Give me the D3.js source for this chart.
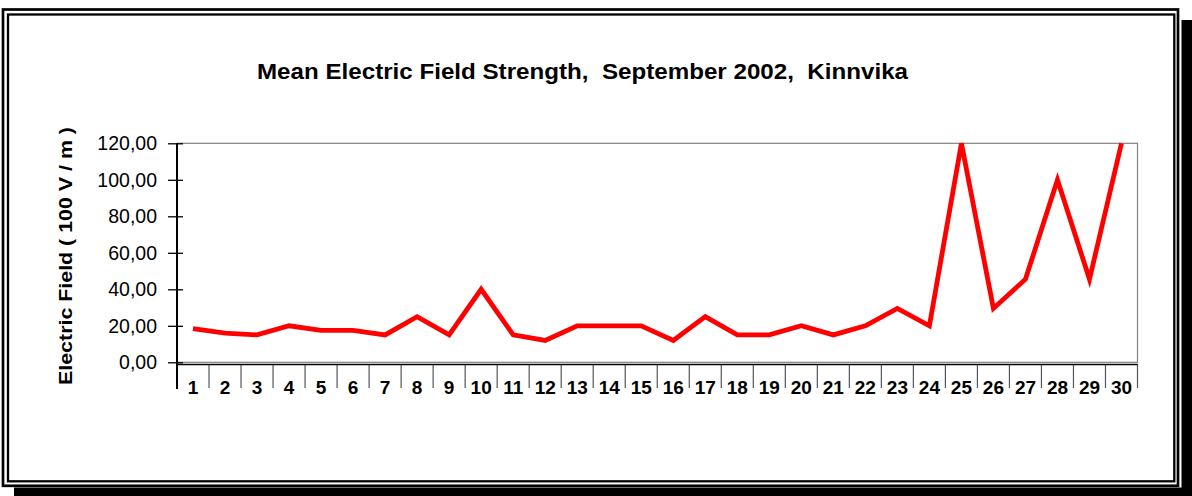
<!DOCTYPE html>
<html>
<head>
    <title>Mean Electric Field</title>
    <script src="https://cdn.jsdelivr.net/npm/d3@7"></script>
    <style>
        body { margin: 0; background: #fff; }
        text { font-family: Arial, "Liberation Sans", sans-serif; }
    </style>
</head>
<body>
    <svg width="1192" height="496" id="mainsvg"></svg>
    <script>
        // data
        const days = d3.range(1, 31).map(String);
        const fieldValues = [18.5, 16, 15, 20, 17.5, 17.5, 15, 25, 15, 40,
                             15, 12, 20, 20, 20, 12, 25, 15, 15, 20,
                             15, 20, 29.5, 20, 120, 29.5, 45.5, 100, 45.5, 120];
        const yTicks = [0, 20, 40, 60, 80, 100, 120];

        const svg = d3.select('svg');
        const width = +svg.attr('width');
        const height = +svg.attr('height');

        // frame with shadow
        svg.append('rect').attr('x', 1181.5).attr('y', 20).attr('width', 12).attr('height', 480).attr('fill', 'black');
        svg.append('rect').attr('x', 14).attr('y', 487.5).attr('width', 1180).attr('height', 10).attr('fill', 'black');
        svg.append('rect').attr('x', 3).attr('y', 9.5).attr('width', 1175).attr('height', 476.3)
            .attr('fill', 'white').attr('stroke', 'black').attr('stroke-width', 2.7);
        svg.append('rect').attr('x', 8).attr('y', 14.5).attr('width', 1166.3).attr('height', 466.8)
            .attr('fill', 'none').attr('stroke', 'black').attr('stroke-width', 2.3);

        const plotL = 177, plotR = 1137.5, plotT = 143.3, plotB = 362.3;
        const x = d3.scaleBand().domain(days).range([plotL, plotR]);
        const y = d3.scaleLinear().domain([0, 120]).range([plotB, plotT]);

        // plot area border (grey)
        svg.append('rect').attr('x', plotL).attr('y', plotT).attr('width', plotR - plotL).attr('height', plotB - plotT)
            .attr('fill', 'none').attr('stroke', '#808080').attr('stroke-width', 1.2);

        // title
        svg.append('text').attr('x', 582.5).attr('y', 78.5)
            .attr('text-anchor', 'middle').attr('font-size', 22).attr('font-weight', 'bold')
            .attr('textLength', 651).attr('lengthAdjust', 'spacingAndGlyphs')
            .style('white-space', 'pre')
            .text('Mean Electric Field Strength,  September 2002,  Kinnvika');

        // y axis
        const yAxis = d3.axisLeft(y).tickValues(yTicks).tickSize(9).tickPadding(11)
            .tickFormat(d => d3.format('.2f')(d).replace('.', ','));
        const yg = svg.append('g').attr('transform', `translate(${plotL},0)`).call(yAxis);
        yg.select('.domain').remove();
        yg.selectAll('.tick line').attr('x2', -9).attr('x1', 6).attr('stroke', 'black').attr('stroke-width', 1.3);
        yg.selectAll('.tick text').attr('font-size', 19.5).attr('font-family', 'Arial, "Liberation Sans", sans-serif').attr('fill', 'black');
        svg.append('line').attr('x1', plotL).attr('x2', plotL).attr('y1', plotT).attr('y2', 389)
            .attr('stroke', 'black').attr('stroke-width', 2);

        // x axis
        const xAxis = d3.axisBottom(x).tickSize(0).tickPadding(17);
        const xg = svg.append('g').attr('transform', `translate(0,364)`).call(xAxis);
        xg.select('.domain').remove();
        xg.selectAll('.tick text').attr('font-size', 19).attr('font-weight', 'bold')
            .attr('font-family', 'Arial, "Liberation Sans", sans-serif').attr('fill', 'black');
        svg.selectAll('.xsep').data(days.slice(1).concat(['end']))
            .join('line').attr('class', 'xsep')
            .attr('x1', d => d === 'end' ? plotR : x(d)).attr('x2', d => d === 'end' ? plotR : x(d))
            .attr('y1', 364).attr('y2', 388)
            .attr('stroke', '#555').attr('stroke-width', 1.2);
        svg.append('line').attr('x1', plotL).attr('x2', plotR).attr('y1', 364.5).attr('y2', 364.5)
            .attr('stroke', 'black').attr('stroke-width', 1.5);

        // y axis title
        svg.append('text')
            .attr('transform', `translate(72,${(126 + 386) / 2}) rotate(-90)`)
            .attr('text-anchor', 'middle').attr('font-size', 18).attr('font-weight', 'bold')
            .attr('textLength', 258).attr('lengthAdjust', 'spacingAndGlyphs')
            .text('Electric Field ( 100 V / m )');

        // series line
        const line = d3.line().x((d, i) => x(days[i]) + x.bandwidth() / 2).y(d => y(d));
        svg.append('path').datum(fieldValues)
            .attr('d', line).attr('fill', 'none')
            .attr('stroke', '#ff0000').attr('stroke-width', 4.8).attr('stroke-linejoin', 'miter');
    </script>
</body>
</html>
